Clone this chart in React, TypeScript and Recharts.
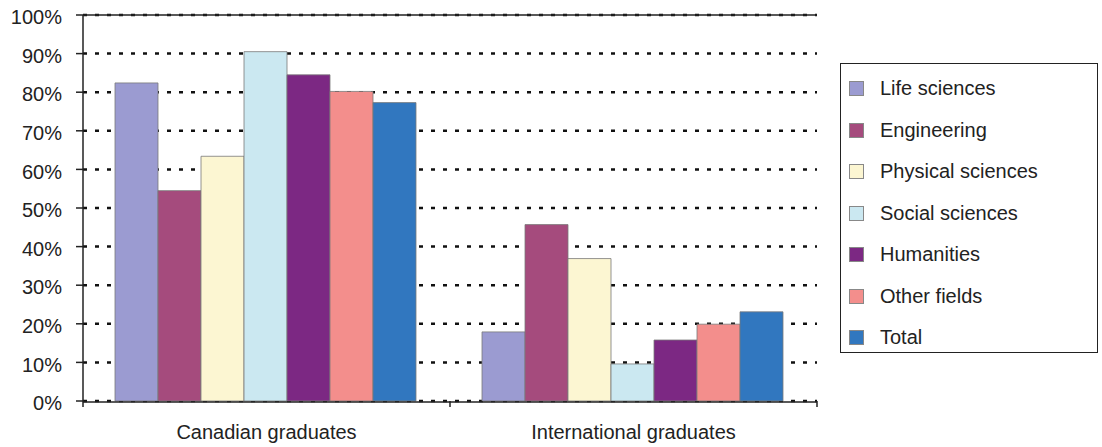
import React from "react";
import {
  BarChart,
  Bar,
  XAxis,
  YAxis,
  CartesianGrid,
  ReferenceLine,
} from "recharts";

const categories = ["Canadian graduates", "International graduates"];
const lifeSciences = [82.4, 17.9];
const engineering = [54.5, 45.7];
const physicalSciences = [63.4, 36.9];
const socialSciences = [90.5, 9.6];
const humanities = [84.5, 15.8];
const otherFields = [80.2, 19.9];
const total = [77.3, 23.1];
const yTicks = [0, 10, 20, 30, 40, 50, 60, 70, 80, 90, 100];
const groupBounds = [0, 1, 2];

const series = [
  { key: "life", name: "Life sciences", values: lifeSciences, color: "#9b9bd1" },
  { key: "eng", name: "Engineering", values: engineering, color: "#a54b7d" },
  { key: "phys", name: "Physical sciences", values: physicalSciences, color: "#fcf6d2" },
  { key: "soc", name: "Social sciences", values: socialSciences, color: "#cbe8f1" },
  { key: "hum", name: "Humanities", values: humanities, color: "#7c2883" },
  { key: "other", name: "Other fields", values: otherFields, color: "#f38e8c" },
  { key: "total", name: "Total", values: total, color: "#3177bf" },
];

// pos = group centre on the 0..2 boundary axis
const data = categories.map((category, i) => {
  const row: Record<string, string | number> = { category, pos: i + 0.5 };
  series.forEach((s) => {
    row[s.key] = s.values[i];
  });
  return row;
});

const FONT = "'Liberation Sans', Arial, sans-serif";

// y labels sit a few px below their grid line in the original
// eslint-disable-next-line @typescript-eslint/no-explicit-any
function YTick(props: any) {
  const { x, y, payload } = props;
  return (
    <text
      x={x}
      y={y + 4}
      textAnchor="end"
      dominantBaseline="middle"
      fontSize={20}
      fontFamily={FONT}
      fill="#222"
    >
      {payload.value}%
    </text>
  );
}

function LegendBox() {
  return (
    <div
      style={{
        position: "absolute",
        left: 840,
        top: 63,
        width: 258,
        height: 290,
        border: "1.5px solid #222",
        boxSizing: "border-box",
        background: "#fff",
        paddingTop: 4,
      }}
    >
      {series.map((s) => (
        <div
          key={s.key}
          style={{ display: "flex", alignItems: "center", height: 41.5 }}
        >
          <div
            style={{
              width: 13,
              height: 13,
              marginLeft: 8,
              marginRight: 16,
              background: s.color,
              border: "1px solid #888",
            }}
          />
          <span style={{ fontSize: 20, fontFamily: FONT, color: "#222" }}>
            {s.name}
          </span>
        </div>
      ))}
    </div>
  );
}

export default function App() {
  return (
    <div
      style={{
        position: "fixed",
        left: 0,
        top: 0,
        width: 1102,
        height: 447,
        background: "#fff",
      }}
    >
      <BarChart
        width={1102}
        height={447}
        data={data}
        margin={{ top: 15, right: 285, left: 0, bottom: 0 }}
        barCategoryGap={32}
        barGap={0}
      >
        <CartesianGrid
          xAxisId="c"
          vertical={false}
          stroke="#111"
          strokeWidth={2.5}
          strokeDasharray="4 8"
        />
        <XAxis
          xAxisId="c"
          dataKey="category"
          height={45}
          axisLine={{ stroke: "#222", strokeWidth: 1.5 }}
          tickLine={false}
          tickSize={6}
          tickMargin={17}
          tick={{ fontSize: 20, fontFamily: FONT, fill: "#222" }}
        />
        {/* boundary ticks between the groups */}
        <XAxis
          xAxisId="b"
          dataKey="pos"
          type="number"
          domain={[0, 2]}
          ticks={groupBounds}
          allowDataOverflow
          height={1}
          tickSize={6}
          tick={() => <g />}
          axisLine={false}
          tickLine={{ stroke: "#222", strokeWidth: 1.5 }}
        />
        <YAxis
          domain={[0, 100]}
          ticks={yTicks}
          width={83}
          tickSize={7}
          tickMargin={14}
          tick={<YTick />}
          axisLine={{ stroke: "#222", strokeWidth: 1.5 }}
          tickLine={{ stroke: "#222", strokeWidth: 1.5 }}
        />
        <YAxis
          yAxisId="r"
          orientation="right"
          width={0}
          domain={[0, 100]}
          tick={false}
          tickLine={false}
          axisLine={{ stroke: "#222", strokeWidth: 1.5 }}
        />
        <ReferenceLine xAxisId="c" y={100} stroke="#222" strokeWidth={1.5} />
        {series.map((s) => (
          <Bar
            key={s.key}
            xAxisId="c"
            dataKey={s.key}
            name={s.name}
            fill={s.color}
            stroke="#7a7a7a"
            strokeWidth={0.8}
            isAnimationActive={false}
          />
        ))}
      </BarChart>
      <LegendBox />
    </div>
  );
}
